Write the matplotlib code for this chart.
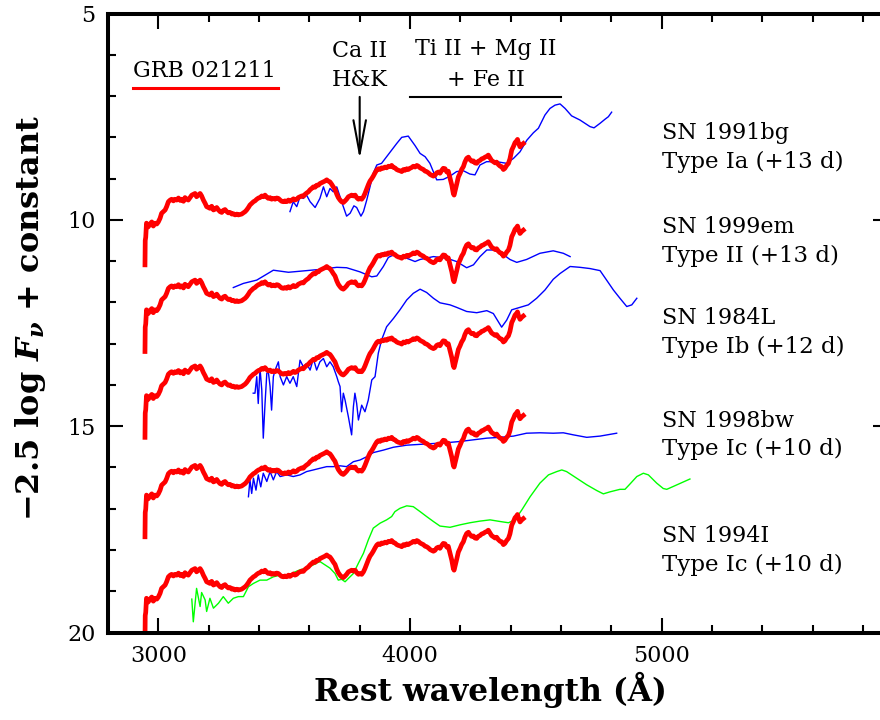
import matplotlib.pyplot as plt
from matplotlib.ticker import MultipleLocator

plt.rcParams['font.family'] = 'DejaVu Serif'
plt.rcParams['mathtext.fontset'] = 'custom'
plt.rcParams['mathtext.rm'] = 'DejaVu Serif:bold'
plt.rcParams['mathtext.it'] = 'DejaVu Serif:italic:bold'

# GRB 021211 spectrum (top copy); the other copies are shifted by grb_shift
grb_wave = [2947, 2948, 2950, 2953, 2960, 2967, 2974, 2980, 2987, 2994,
            3000, 3007, 3013, 3020, 3027, 3033, 3040, 3047, 3053, 3060,
            3066, 3073, 3080, 3087, 3093, 3100, 3106, 3113, 3119, 3126,
            3133, 3140, 3146, 3152, 3159, 3166, 3172, 3179, 3186, 3192,
            3199, 3205, 3212, 3219, 3226, 3232, 3239, 3245, 3252, 3258,
            3265, 3272, 3278, 3285, 3292, 3298, 3305, 3312, 3318, 3325,
            3331, 3338, 3345, 3351, 3358, 3364, 3371, 3378, 3384, 3391,
            3398, 3404, 3411, 3417, 3424, 3431, 3437, 3444, 3450, 3457,
            3464, 3470, 3477, 3484, 3490, 3497, 3503, 3510, 3517, 3523,
            3530, 3537, 3543, 3550, 3556, 3563, 3570, 3576, 3583, 3589,
            3596, 3603, 3609, 3616, 3623, 3629, 3636, 3642, 3649, 3656,
            3662, 3669, 3675, 3682, 3689, 3695, 3702, 3709, 3715, 3722,
            3728, 3735, 3742, 3748, 3755, 3762, 3768, 3775, 3782, 3788,
            3795, 3801, 3808, 3815, 3821, 3828, 3835, 3841, 3848, 3854,
            3861, 3868, 3874, 3881, 3887, 3894, 3901, 3907, 3914, 3921,
            3927, 3934, 3940, 3947, 3954, 3960, 3967, 3974, 3980, 3987,
            3993, 4000, 4007, 4013, 4020, 4027, 4033, 4040, 4046, 4053,
            4060, 4066, 4073, 4080, 4086, 4093, 4099, 4106, 4113, 4119,
            4126, 4132, 4139, 4146, 4152, 4159, 4166, 4172, 4175, 4179,
            4186, 4192, 4199, 4205, 4212, 4218, 4225, 4232, 4238, 4245,
            4252, 4258, 4265, 4271, 4278, 4285, 4291, 4298, 4305, 4311,
            4318, 4324, 4331, 4338, 4344, 4351, 4358, 4364, 4371, 4377,
            4384, 4391, 4397, 4404, 4411, 4417, 4424, 4427, 4431, 4437,
            4444, 4450]
grb_mag = [11.09, 10.50, 10.42, 10.08, 10.17, 10.10, 10.05, 10.15, 10.08, 10.10,
           10.05, 9.96, 9.84, 9.80, 9.76, 9.68, 9.56, 9.52, 9.50, 9.54,
           9.50, 9.52, 9.47, 9.53, 9.50, 9.55, 9.46, 9.50, 9.52, 9.46,
           9.40, 9.38, 9.36, 9.44, 9.40, 9.36, 9.42, 9.52, 9.60, 9.68,
           9.70, 9.72, 9.67, 9.76, 9.74, 9.70, 9.76, 9.80, 9.82, 9.77,
           9.75, 9.80, 9.83, 9.82, 9.86, 9.85, 9.88, 9.86, 9.88, 9.87,
           9.86, 9.83, 9.80, 9.76, 9.70, 9.64, 9.60, 9.56, 9.54, 9.50,
           9.47, 9.46, 9.42, 9.44, 9.40, 9.45, 9.48, 9.46, 9.50, 9.48,
           9.50, 9.47, 9.48, 9.52, 9.55, 9.56, 9.54, 9.56, 9.52, 9.55,
           9.52, 9.49, 9.52, 9.50, 9.46, 9.44, 9.42, 9.43, 9.38, 9.35,
           9.32, 9.27, 9.24, 9.20, 9.21, 9.16, 9.16, 9.12, 9.10, 9.08,
           9.06, 9.03, 9.06, 9.08, 9.14, 9.20, 9.26, 9.38, 9.46, 9.52,
           9.56, 9.58, 9.54, 9.50, 9.44, 9.42, 9.40, 9.42, 9.40, 9.46,
           9.50, 9.48, 9.50, 9.44, 9.36, 9.25, 9.14, 9.06, 9.00, 8.94,
           8.86, 8.79, 8.76, 8.78, 8.74, 8.75, 8.72, 8.74, 8.70, 8.71,
           8.68, 8.73, 8.74, 8.78, 8.80, 8.81, 8.83, 8.78, 8.80, 8.76,
           8.78, 8.75, 8.73, 8.70, 8.72, 8.68, 8.70, 8.74, 8.76, 8.78,
           8.82, 8.83, 8.86, 8.90, 8.92, 8.94, 8.92, 8.86, 8.84, 8.87,
           8.80, 8.75, 8.76, 8.84, 8.82, 8.99, 9.16, 9.36, 9.40, 9.30,
           9.12, 8.96, 8.87, 8.78, 8.71, 8.60, 8.51, 8.48, 8.54, 8.58,
           8.57, 8.62, 8.63, 8.58, 8.56, 8.52, 8.51, 8.48, 8.46, 8.43,
           8.50, 8.56, 8.59, 8.62, 8.60, 8.66, 8.70, 8.71, 8.78, 8.75,
           8.68, 8.63, 8.52, 8.31, 8.22, 8.13, 8.08, 8.05, 8.14, 8.23,
           8.18, 8.15]
grb_shift = [0.0, 2.10, 4.18, 6.59, 9.09]

# comparison supernovae
sn91bg_wave = [3523, 3536, 3550, 3563, 3576, 3589, 3603, 3623, 3642, 3656,
               3669, 3682, 3695, 3709, 3722, 3735, 3748, 3762, 3777, 3788,
               3805, 3815, 3828, 3841, 3854, 3868, 3887, 3907, 3927, 3947,
               3967, 3993, 4020, 4040, 4060, 4079, 4106, 4132, 4159, 4185,
               4212, 4238, 4258, 4278, 4304, 4344, 4384, 4411, 4437, 4464,
               4490, 4510, 4536, 4556, 4576, 4596, 4616, 4642, 4675, 4695,
               4715, 4731, 4755, 4775, 4788, 4801]
sn91bg_mag = [9.80, 9.56, 9.68, 9.44, 9.48, 9.40, 9.56, 9.70, 9.48, 9.20,
              9.44, 9.24, 9.32, 9.20, 9.44, 9.68, 9.91, 9.84, 9.66, 9.70,
              9.91, 9.80, 9.52, 9.20, 8.87, 8.67, 8.63, 8.47, 8.31, 8.15,
              8.00, 7.97, 8.20, 8.39, 8.47, 8.63, 9.03, 9.02, 8.94, 8.83,
              8.81, 8.89, 8.91, 8.67, 8.59, 8.59, 8.63, 8.51, 8.35, 8.07,
              7.89, 7.78, 7.46, 7.30, 7.22, 7.19, 7.30, 7.48, 7.58, 7.66,
              7.74, 7.77, 7.66, 7.56, 7.50, 7.39]

sn99em_wave = [3298, 3338, 3391, 3424, 3457, 3517, 3589, 3642, 3709, 3748,
               3801, 3848, 3868, 3894, 3914, 3934, 3987, 4020, 4040, 4093,
               4146, 4185, 4225, 4252, 4278, 4305, 4331, 4364, 4397, 4424,
               4463, 4516, 4569, 4609, 4636]
sn99em_mag = [11.64, 11.54, 11.46, 11.34, 11.22, 11.27, 11.23, 11.20, 11.15, 11.16,
              11.26, 11.38, 11.36, 11.13, 10.91, 10.85, 10.93, 11.01, 10.96, 10.89,
              10.93, 11.01, 11.16, 11.09, 10.89, 10.73, 10.73, 10.81, 10.96, 11.03,
              10.96, 10.81, 10.75, 10.81, 10.89]

sn84l_wave = [3377, 3384, 3391, 3397, 3404, 3411, 3417, 3424, 3431, 3437,
              3444, 3450, 3457, 3464, 3477, 3484, 3497, 3510, 3523, 3536,
              3550, 3563, 3576, 3589, 3603, 3616, 3629, 3642, 3656, 3669,
              3682, 3695, 3709, 3715, 3722, 3728, 3735, 3742, 3755, 3768,
              3775, 3781, 3788, 3795, 3808, 3821, 3834, 3848, 3861, 3874,
              3887, 3907, 3934, 3960, 3987, 4013, 4040, 4066, 4093, 4119,
              4159, 4185, 4225, 4265, 4305, 4331, 4351, 4364, 4384, 4404,
              4437, 4470, 4503, 4536, 4569, 4596, 4636, 4675, 4715, 4755,
              4781, 4808, 4834, 4861, 4881, 4901]
sn84l_mag = [14.20, 14.20, 13.80, 14.45, 13.60, 14.12, 15.29, 14.45, 13.72, 13.68,
             14.04, 14.61, 13.80, 13.64, 13.44, 13.80, 14.00, 13.80, 13.96, 13.80,
             14.04, 13.40, 13.56, 13.48, 13.64, 13.36, 13.64, 13.44, 13.36, 13.56,
             13.44, 13.56, 13.80, 13.92, 14.04, 14.65, 14.20, 14.37, 14.77, 15.21,
             14.53, 14.20, 14.45, 14.85, 14.49, 14.65, 14.37, 13.88, 13.80, 13.23,
             12.91, 12.59, 12.39, 12.18, 11.94, 11.78, 11.68, 11.76, 11.90, 12.01,
             12.06, 12.12, 12.22, 12.25, 12.20, 12.27, 12.47, 12.60, 12.43, 12.18,
             12.12, 12.06, 11.90, 11.70, 11.44, 11.30, 11.13, 11.15, 11.18, 11.23,
             11.46, 11.70, 11.90, 12.10, 12.06, 11.90]

sn98bw_wave = [3358, 3364, 3371, 3378, 3388, 3397, 3407, 3417, 3431, 3444,
               3457, 3470, 3484, 3510, 3536, 3563, 3589, 3616, 3642, 3669,
               3695, 3722, 3748, 3775, 3801, 3828, 3854, 3894, 3934, 3987,
               4040, 4093, 4146, 4199, 4252, 4305, 4358, 4411, 4463, 4516,
               4569, 4609, 4649, 4702, 4755, 4821]
sn98bw_mag = [16.71, 16.30, 16.63, 16.26, 16.55, 16.18, 16.47, 16.14, 16.34, 16.10,
              16.30, 16.10, 16.22, 16.18, 16.22, 16.18, 16.10, 16.06, 16.02, 15.98,
              15.98, 15.96, 15.98, 15.86, 15.82, 15.74, 15.64, 15.58, 15.51, 15.46,
              15.44, 15.42, 15.40, 15.37, 15.33, 15.29, 15.27, 15.24, 15.17, 15.16,
              15.17, 15.16, 15.21, 15.27, 15.24, 15.17]

sn94i_wave = [3133, 3139, 3152, 3166, 3172, 3186, 3192, 3205, 3219, 3239,
              3258, 3278, 3298, 3318, 3338, 3358, 3378, 3404, 3431, 3457,
              3484, 3510, 3536, 3563, 3589, 3616, 3642, 3662, 3682, 3702,
              3715, 3728, 3742, 3755, 3775, 3795, 3815, 3834, 3854, 3881,
              3907, 3927, 3940, 3960, 3987, 4013, 4040, 4066, 4093, 4119,
              4159, 4199, 4238, 4278, 4318, 4358, 4391, 4417, 4444, 4477,
              4516, 4550, 4583, 4603, 4622, 4662, 4702, 4742, 4768, 4795,
              4834, 4854, 4874, 4901, 4927, 4947, 4980, 5006, 5020, 5046,
              5079, 5112]
sn94i_mag = [19.19, 19.74, 18.93, 19.37, 19.03, 19.21, 19.49, 19.17, 19.41, 19.29,
             19.13, 19.29, 19.17, 19.13, 19.13, 18.89, 18.81, 18.73, 18.73, 18.65,
             18.61, 18.65, 18.55, 18.48, 18.44, 18.36, 18.28, 18.36, 18.44, 18.57,
             18.73, 18.71, 18.77, 18.69, 18.57, 18.32, 18.08, 17.76, 17.47, 17.35,
             17.27, 17.19, 17.07, 16.99, 16.93, 16.95, 17.07, 17.19, 17.31, 17.42,
             17.45, 17.39, 17.34, 17.30, 17.27, 17.31, 17.34, 17.27, 17.03, 16.71,
             16.38, 16.18, 16.10, 16.06, 16.10, 16.26, 16.42, 16.56, 16.64, 16.59,
             16.53, 16.53, 16.40, 16.22, 16.14, 16.18, 16.38, 16.51, 16.53, 16.46,
             16.37, 16.28]

sn_names = ['SN 1991bg', 'SN 1999em', 'SN 1984L', 'SN 1998bw', 'SN 1994I']
sn_types = ['Type Ia (+13 d)', 'Type II (+13 d)', 'Type Ib (+12 d)',
            'Type Ic (+10 d)', 'Type Ic (+10 d)']

fig = plt.figure(figsize=(8.8, 7.2), dpi=100)
ax = fig.add_axes([0.1227, 0.1215, 0.8867, 0.8597])

spectra = [(sn91bg_wave, sn91bg_mag, '#0000ff'),
           (sn99em_wave, sn99em_mag, '#0000ff'),
           (sn84l_wave, sn84l_mag, '#0000ff'),
           (sn98bw_wave, sn98bw_mag, '#0000ff'),
           (sn94i_wave, sn94i_mag, '#00ff00')]
for w, m, c in spectra:
    ax.plot(w, m, color=c, lw=1.0)

for s in grb_shift:
    ax.plot(grb_wave, [v + s for v in grb_mag], color='#ff0000', lw=3.4,
            solid_joinstyle='round')

# labels on the right
name_y = [8.05, 10.31, 12.52, 15.01, 17.80]
for name, typ, y in zip(sn_names, sn_types, name_y):
    ax.text(5000, y, name, fontsize=16, va='baseline', ha='left')
    ax.text(5000, y + 0.70, typ, fontsize=16.5, va='baseline', ha='left')

# key for the GRB spectrum
ax.text(2900, 6.53, 'GRB 021211', fontsize=16, va='baseline', ha='left')
ax.plot([2900, 3474], [6.81, 6.81], color='#ff0000', lw=2.2)

# line identifications
ax.text(3800, 6.06, 'Ca II', fontsize=16, va='baseline', ha='center')
ax.text(3800, 6.76, 'H&K', fontsize=16, va='baseline', ha='center')
ax.annotate('', xy=(3800, 8.53), xytext=(3800, 7.02),
            arrowprops=dict(arrowstyle='->,head_length=2.4,head_width=0.45',
                            lw=1.5, color='k', mutation_scale=10,
                            shrinkA=0, shrinkB=0))
ax.text(4302, 6.01, 'Ti II + Mg II', fontsize=16, va='baseline', ha='center')
ax.text(4302, 6.76, '+ Fe II', fontsize=16, va='baseline', ha='center')
ax.plot([4000, 4600], [7.02, 7.02], color='k', lw=1.5)

ax.set_xlim(2800, 5900)
ax.set_ylim(20, 5)
ax.set_xticks([3000, 4000, 5000])
ax.set_yticks([5, 10, 15, 20])
ax.xaxis.set_minor_locator(MultipleLocator(200))
ax.yaxis.set_minor_locator(MultipleLocator(1))
ax.tick_params(which='both', direction='in', top=True, right=True, width=1.5)
ax.tick_params(which='major', length=11, labelsize=16, pad=9)
ax.tick_params(which='minor', length=5.5)
for sp in ax.spines.values():
    sp.set_linewidth(2.9)

fig.text(0.557, 0.042, 'Rest wavelength (Å)', fontsize=22.5, fontweight='bold',
         ha='center', va='center')
fig.text(0.035, 0.558, '−2.5 log $F_\\nu$ + constant', fontsize=23,
         fontweight='bold', rotation=90, ha='center', va='center')

fig.savefig('out.png', dpi=100)
